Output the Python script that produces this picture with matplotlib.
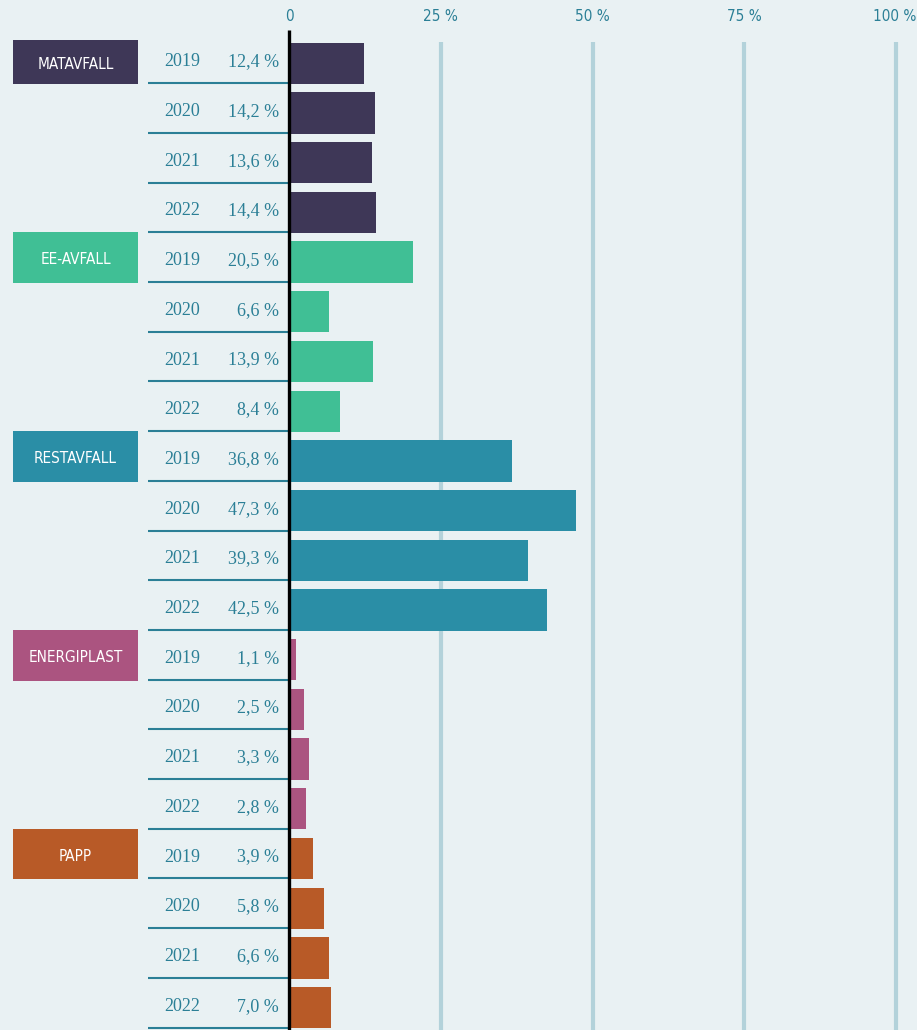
"""
Andel avfall per fraksjon og år - horisontale søyler med tabell til venstre
"""

import matplotlib.pyplot as plt
from matplotlib import font_manager as fm

# Data
categories = ['MATAVFALL', 'EE-AVFALL', 'RESTAVFALL', 'ENERGIPLAST', 'PAPP']
years = ['2019', '2020', '2021', '2022']
shares = {
    'MATAVFALL': [12.4, 14.2, 13.6, 14.4],
    'EE-AVFALL': [20.5, 6.6, 13.9, 8.4],
    'RESTAVFALL': [36.8, 47.3, 39.3, 42.5],
    'ENERGIPLAST': [1.1, 2.5, 3.3, 2.8],
    'PAPP': [3.9, 5.8, 6.6, 7.0],
}
colors = {
    'MATAVFALL': '#3e3757',
    'EE-AVFALL': '#40bf95',
    'RESTAVFALL': '#2a8ea6',
    'ENERGIPLAST': '#ab5480',
    'PAPP': '#b85a27',
}
ticks = [0, 25, 50, 75, 100]
tick_labels = ['0', '25 %', '50 %', '75 %', '100 %']

BG = '#e9f1f3'
TEAL = '#2b7f96'
GRID = '#b3d2da'

# Layout (pixels -> data)
W, H = 917, 1030
PX_PER_PCT = 6.07
X0_PX = 289
ROW_H = 49.7
TOP_PX = 33.5


def xd(px):
    return (px - X0_PX) / PX_PER_PCT


def yd(px):
    return -0.5 + (px - TOP_PX) / ROW_H


# look for a narrow sans font, otherwise plain DejaVu
narrow_fonts = [f for f in fm.fontManager.ttflist
                if 'Narrow' in f.name or 'Condensed' in f.name
                or f.stretch in ('condensed', 'semi-condensed')]
if narrow_fonts:
    narrow = dict(family=[narrow_fonts[0].name, 'DejaVu Sans'], fontstretch='condensed')
    nsize = 11
else:
    narrow = dict(family=['DejaVu Sans'])
    nsize = 9.5
serif = ['Liberation Serif', 'DejaVu Serif']

fig = plt.figure(figsize=(W / 100, H / 100), dpi=100)
fig.patch.set_facecolor(BG)
ax = fig.add_axes([0, 0, 1, 1])
ax.set_facecolor(BG)
ax.set_xlim(xd(0), xd(W))
ax.set_ylim(yd(H), yd(0))
ax.axis('off')

# grid lines + axis labels
ax.vlines(ticks[1:], yd(42), yd(H), color=GRID, lw=3, zorder=1)
for t, lab in zip(ticks, tick_labels):
    ha = 'right' if t == ticks[-1] else 'center'
    xt = xd(W - 1) if t == ticks[-1] else t
    ax.text(xt, yd(17), lab, ha=ha, va='center', color=TEAL,
            fontsize=nsize, **narrow)

row = 0
for cat in categories:
    vals = shares[cat]
    # category box
    top = row - 0.5 if row > 0 else yd(40)
    ax.fill_between([xd(13), xd(138)], top, row + 0.52,
                    color=colors[cat], lw=0, zorder=2)
    ax.text((xd(13) + xd(138)) / 2, (top + row + 0.52) / 2 + 0.04, cat,
            ha='center', va='center', color='white', fontsize=nsize, **narrow)
    for yr, v in zip(years, vals):
        ax.barh(row + 0.1, v, height=0.83, color=colors[cat], zorder=2)
        ax.text(xd(182), row + 0.07, yr, ha='center', va='center',
                color=TEAL, fontsize=13, family=serif)
        ax.text(xd(279), row + 0.07, f'{v:.1f} %'.replace('.', ','),
                ha='right', va='center', color=TEAL, fontsize=13, family=serif)
        ax.plot([xd(148), 0], [row + 0.5, row + 0.5], color=TEAL, lw=1.5,
                zorder=2, solid_capstyle='butt')
        row += 1

# zero line
ax.vlines(0, yd(30), yd(H), color='black', lw=2.4, zorder=4)

plt.savefig('out.png', dpi=100, facecolor=BG)
